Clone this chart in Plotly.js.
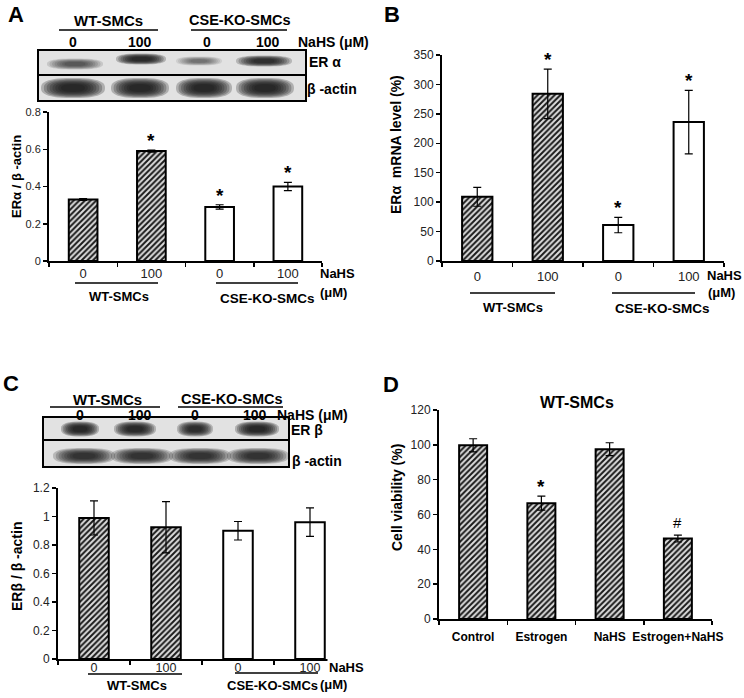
<!DOCTYPE html>
<html>
<head>
<meta charset="utf-8">
<script src="https://cdn.plot.ly/plotly-3.0.1.min.js"></script>
<style>html,body{margin:0;padding:0;background:#fff;}#chart{width:744px;height:698px;}</style>
</head>
<body>
<div id="chart"></div>
<script>
// ---------------- DATA ----------------
const groupCats = ['WT 0', 'WT 100', 'KO 0', 'KO 100'];
const groupTickLabels = ['0', '100', '0', '100'];
const hatchedFlags = [true, true, false, false];

// Panel A: ERα / β-actin protein
const erAlphaProtein = [0.33, 0.59, 0.29, 0.40];
const erAlphaProteinErr = [0.005, 0.006, 0.012, 0.022];
const erAlphaProteinSig = ['', '*', '*', '*'];

// Panel B: ERα mRNA level (%)
const erAlphaMrna = [109, 284, 61, 236];
const erAlphaMrnaErr = [16, 42, 13, 54];
const erAlphaMrnaSig = ['', '*', '*', '*'];

// Panel C: ERβ / β-actin protein
const erBetaProtein = [0.99, 0.925, 0.90, 0.96];
const erBetaProteinErr = [0.12, 0.18, 0.065, 0.10];

// Panel D: Cell viability (%)
const viabilityCats = ['Control', 'Estrogen', 'NaHS', 'Estrogen+NaHS'];
const viability = [99.7, 66.5, 97.5, 46.2];
const viabilityErr = [3.8, 4.0, 3.7, 2.0];
const viabilitySig = ['', '*', '', '#'];

// Blot band darkness (0..1) per lane
const blotAlphaBands = [0.50, 0.92, 0.35, 0.82];
const blotAlphaActin = [0.97, 0.95, 0.95, 0.95];
const blotBetaBands = [0.95, 0.92, 0.85, 0.95];
const blotBetaActin = [0.78, 0.78, 0.78, 0.78];

// ---------------- HELPERS ----------------
const W = 744, H = 698;
const px = x => x / W;
const py = y => 1 - y / H;
const SANS = 'Liberation Sans, Arial, sans-serif';
const NARROW = 'Liberation Sans Narrow, Arial Narrow, Liberation Sans, Arial, sans-serif';

const annotations = [];
const shapes = [];

function txt(x, y, text, size, bold, extra) {
  annotations.push(Object.assign({
    xref: 'paper', yref: 'paper', x: px(x), y: py(y),
    text: bold ? '<b>' + text + '</b>' : text,
    showarrow: false, xanchor: 'center', yanchor: 'middle',
    font: {family: SANS, size: size, color: '#000'}
  }, extra || {}));
}
function hline(x0, x1, y, w) {
  shapes.push({type: 'line', xref: 'paper', yref: 'paper', x0: px(x0), x1: px(x1), y0: py(y), y1: py(y),
    line: {color: '#000', width: w || 1.6}});
}
function blotBox(x0, x1, y0, y1) {
  shapes.push({type: 'rect', xref: 'paper', yref: 'paper', x0: px(x0), x1: px(x1), y0: py(y1), y1: py(y0),
    fillcolor: '#e2e2e2', line: {width: 0}, layer: 'above'});
}
function blotFrame(x0, x1, y0, ysplit, y1) {
  shapes.push({type: 'rect', xref: 'paper', yref: 'paper', x0: px(x0), x1: px(x1), y0: py(y1), y1: py(y0),
    fillcolor: 'rgba(0,0,0,0)', line: {color: '#000', width: 2}, layer: 'above'});
  shapes.push({type: 'line', xref: 'paper', yref: 'paper', x0: px(x0), x1: px(x1), y0: py(ysplit), y1: py(ysplit),
    line: {color: '#000', width: 2}, layer: 'above'});
}
function superPath(cx, cy, rx, ry, n) {
  let d = '';
  const N = 48;
  for (let i = 0; i <= N; i++) {
    const t = 2 * Math.PI * i / N;
    const c = Math.cos(t), s = Math.sin(t);
    const x = cx + rx * Math.sign(c) * Math.pow(Math.abs(c), 2 / n);
    const y = cy + ry * Math.sign(s) * Math.pow(Math.abs(s), 2 / n);
    d += (i === 0 ? 'M' : 'L') + px(x).toFixed(5) + ',' + py(y).toFixed(5);
  }
  return d + 'Z';
}
function band(cx, cy, rx, ry, dark) {
  const layers = 8;
  for (let i = 0; i < layers; i++) {
    const s = 1 - i * 0.09;
    shapes.push({type: 'path', xref: 'paper', yref: 'paper', path: superPath(cx, cy, rx * s, ry * s, 2.6),
      fillcolor: 'rgb(20,20,20)', opacity: dark * 0.26, line: {width: 0}, layer: 'above'});
  }
}

// ---------------- BLOTS ----------------
// Panel A blot
blotBox(38, 306, 50, 101);
const aLanes = [75, 141, 199, 264];
const aAlphaGeom = [[28, 5.5], [25, 5.5], [23, 4.5], [28, 5.5]];
const aAlphaY = [64, 59, 61, 61];
aLanes.forEach((cx, i) => band(cx, aAlphaY[i], aAlphaGeom[i][0], aAlphaGeom[i][1], blotAlphaBands[i]));
const aActinLanes = [73, 140, 204, 265];
const aActinRx = [32, 29, 28, 29];
aActinLanes.forEach((cx, i) => band(cx, 88, aActinRx[i], 10, blotAlphaActin[i]));
blotFrame(38, 306, 50, 75, 101);

// Panel C blot
blotBox(43, 289, 417, 467);
const cLanes = [80, 135, 195, 257];
const cBetaRx = [19, 21, 18, 22];
cLanes.forEach((cx, i) => band(cx, 429, cBetaRx[i], 7.5, blotBetaBands[i]));
const cActinLanes = [84, 142, 200, 258];
cActinLanes.forEach((cx, i) => band(cx, 456, 31, 8, blotBetaActin[i]));
blotFrame(43, 289, 417, 440, 467);

// ---------------- TEXT ----------------
// Panel letters
txt(16, 15, 'A', 22, true);
txt(392, 15, 'B', 22, true);
txt(11, 383, 'C', 22, true);
txt(391, 384, 'D', 22, true);

// Panel A blot header
txt(108, 20, 'WT-SMCs', 15, true); hline(59, 158, 30);
txt(240, 20, 'CSE-KO-SMCs', 14.5, true); hline(191, 287, 30);
[73, 140, 207, 268].forEach((x, i) => txt(x, 42, groupTickLabels[i], 14, true));
txt(333, 42, 'NaHS (μM)', 14, true);
txt(307, 62, 'ER α', 14, true, {xanchor: 'left'});
txt(305, 89, 'β -actin', 14, true, {xanchor: 'left'});

// Panel A below axis
txt(318, 273, 'NaHS', 13, true, {xanchor: 'left'});
txt(318, 293, '(μM)', 13, true, {xanchor: 'left'});
hline(75, 158, 283); txt(119, 297, 'WT-SMCs', 13, true);
hline(216, 298, 283); txt(267, 298, 'CSE-KO-SMCs', 13.5, true);
txt(16, 177, 'ERα / β -actin', 13, true, {textangle: -90});

// Panel B
txt(705, 275, 'NaHS', 13, true, {xanchor: 'left'});
txt(706, 292, '(μM)', 13, true, {xanchor: 'left'});
hline(470, 555, 293); txt(513, 307, 'WT-SMCs', 13, true);
hline(612, 695, 293); txt(662, 308, 'CSE-KO-SMCs', 13.5, true);
txt(396, 145, 'ERα&nbsp;&nbsp;mRNA level (%)', 14, true, {textangle: -90});

// Panel C blot header
txt(107, 399, 'WT-SMCs', 15, true); hline(50, 160, 407);
txt(232, 399, 'CSE-KO-SMCs', 14.5, true); hline(178, 283, 407);
[80, 140, 195, 255].forEach((x, i) => txt(x, 415, groupTickLabels[i], 14, true));
txt(312, 415, 'NaHS (μM)', 14, true);
txt(289, 430, 'ER β', 14, true, {xanchor: 'left'});
txt(290, 461, 'β -actin', 14, true, {xanchor: 'left'});

// Panel C below axis
txt(327, 667, 'NaHS', 13, true, {xanchor: 'left', bgcolor: '#ffffff'});
txt(318, 684, '(μM)', 13, true, {xanchor: 'left'});
hline(88, 182, 674); txt(137, 685, 'WT-SMCs', 13, true);
hline(235, 318, 673); txt(272, 685, 'CSE-KO-SMCs', 13, true);
txt(17, 567, 'ERβ / β -actin', 14, true, {textangle: -90});

// Panel D
txt(577, 403, 'WT-SMCs', 16, true);
txt(397, 498, 'Cell viability (%)', 14, true, {textangle: -90});

// Significance marks tied to data
function sigMarks(cats, vals, errs, sig, xr, yr) {
  sig.forEach((s, i) => {
    if (!s) return;
    annotations.push({xref: xr, yref: yr, x: cats[i], y: vals[i] + errs[i], text: s === '*' ? '<b>*</b>' : s,
      showarrow: false, yanchor: 'bottom', yshift: s === '*' ? -3 : 2,
      font: {family: SANS, size: s === '*' ? 19 : 15, color: '#000'}});
  });
}
sigMarks(groupCats, erAlphaProtein, erAlphaProteinErr, erAlphaProteinSig, 'x', 'y');
sigMarks(groupCats, erAlphaMrna, erAlphaMrnaErr, erAlphaMrnaSig, 'x2', 'y2');
sigMarks(viabilityCats, viability, viabilityErr, viabilitySig, 'x4', 'y4');

// ---------------- TRACES ----------------
const HATCH = {shape: '/', fgcolor: '#1a1a1a', bgcolor: '#dedede', size: 4, solidity: 0.5};
function barTraces(cats, vals, errs, flags, xa, ya, width) {
  const out = [];
  [true, false].forEach(h => {
    const idx = cats.map((c, i) => i).filter(i => flags[i] === h);
    if (!idx.length) return;
    out.push({
      type: 'bar', xaxis: xa, yaxis: ya,
      x: idx.map(i => cats[i]), y: idx.map(i => vals[i]),
      width: width,
      marker: Object.assign({color: h ? '#dedede' : '#ffffff', line: {color: '#000', width: 2}},
        h ? {pattern: HATCH} : {}),
      error_y: {type: 'data', array: idx.map(i => errs[i]), visible: true, color: '#000', thickness: 1.2, width: 4},
      hoverinfo: 'skip', showlegend: false
    });
  });
  return out;
}
const traces = [].concat(
  barTraces(groupCats, erAlphaProtein, erAlphaProteinErr, hatchedFlags, 'x', 'y', 0.42),
  barTraces(groupCats, erAlphaMrna, erAlphaMrnaErr, hatchedFlags, 'x2', 'y2', 0.43),
  barTraces(groupCats, erBetaProtein, erBetaProteinErr, hatchedFlags, 'x3', 'y3', 0.41),
  barTraces(viabilityCats, viability, viabilityErr, [true, true, true, true], 'x4', 'y4', 0.41)
);

// ---------------- AXES ----------------
function yAx(top, bot, range, dtick, fsize, anchor) {
  return {domain: [py(bot), py(top)], range: range, dtick: dtick, tick0: 0, anchor: anchor,
    showline: true, linecolor: '#000', linewidth: 2, ticks: 'outside', ticklen: 4, tickwidth: 1.5, tickcolor: '#000',
    showgrid: false, zeroline: false, fixedrange: true,
    tickfont: {family: NARROW, size: fsize, color: '#222'}};
}
function xAx(l, r, cats, labels, anchor, font, standoff) {
  return {domain: [px(l), px(r)], type: 'category', categoryorder: 'array', categoryarray: cats,
    range: [-0.5, cats.length - 0.5], anchor: anchor,
    tickmode: 'array', tickvals: cats, ticktext: labels, tickson: 'boundaries', tickangle: 0,
    showline: true, linecolor: '#000', linewidth: 2, ticks: 'outside', ticklen: 4, tickwidth: 1.5, tickcolor: '#000',
    showgrid: false, zeroline: false, fixedrange: true, ticklabelstandoff: standoff || 0,
    tickfont: font};
}
const xTickFont = {family: SANS, size: 13, color: '#222'};
const layout = {
  width: W, height: H, margin: {l: 0, r: 0, t: 0, b: 0},
  paper_bgcolor: '#ffffff', plot_bgcolor: 'rgba(0,0,0,0)',
  showlegend: false, barmode: 'overlay',
  xaxis: xAx(49, 322, groupCats, groupTickLabels, 'y', xTickFont, -1),
  yaxis: yAx(112, 261, [0, 0.8], 0.2, 11, 'x'),
  xaxis2: xAx(442, 724, groupCats, groupTickLabels, 'y2', xTickFont, 2),
  yaxis2: yAx(55, 261, [0, 350], 50, 12, 'x2'),
  xaxis3: xAx(58, 346, groupCats, groupTickLabels, 'y3', {family: SANS, size: 12.5, color: '#222'}, -4),
  yaxis3: yAx(488, 659, [0, 1.2], 0.2, 12, 'x3'),
  xaxis4: xAx(439, 712, viabilityCats, viabilityCats.map(c => '<b>' + c + '</b>'), 'y4', {family: SANS, size: 12, color: '#000'}, 6),
  yaxis4: yAx(410, 619, [0, 120], 20, 12, 'x4'),
  annotations: annotations,
  shapes: shapes
};

Plotly.newPlot('chart', traces, layout, {staticPlot: true, displayModeBar: false});
</script>
</body>
</html>
